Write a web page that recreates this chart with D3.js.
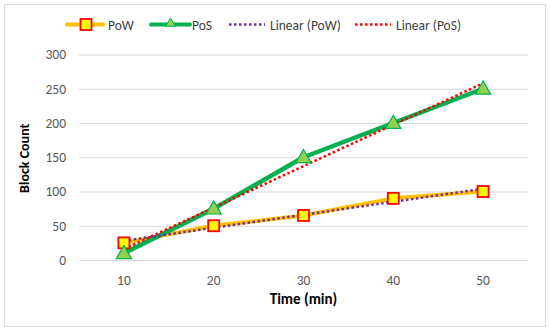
<!DOCTYPE html>
<html><head><meta charset="utf-8">
<script src="https://cdn.jsdelivr.net/npm/d3@7"></script>
<style>body{margin:0;background:#fff}svg{display:block}text{font-family:Carlito,Calibri,"Open Sans",sans-serif}</style>
</head><body>
<script>
const categories = [10, 20, 30, 40, 50];
const powValues = [25, 50, 65, 90, 100];
const posValues = [10, 75, 150, 200, 250];
const yTicks = [0, 50, 100, 150, 200, 250, 300];
const seriesNames = ["PoW", "PoS", "Linear (PoW)", "Linear (PoS)"];

const W = 550, H = 333;
const svg = d3.select("body").append("svg").attr("width", W).attr("height", H);
svg.append("rect").attr("x", 4.5).attr("y", 4.5).attr("width", 541).attr("height", 322)
  .attr("fill", "#fff").attr("stroke", "#d9d9d9").attr("stroke-width", 1);

const m = {left: 79, right: 528, top: 54.5, bottom: 260};
const x = d3.scaleBand().domain(categories).range([m.left, m.right]);
const y = d3.scaleLinear().domain([0, 300]).range([m.bottom, m.top]);
const cx = d => x(d) + x.bandwidth() / 2;
const FF = "Carlito,Calibri,'Open Sans',sans-serif";

// gridlines
svg.append("g").selectAll("line").data(yTicks).join("line")
  .attr("x1", m.left).attr("x2", m.right)
  .attr("y1", d => y(d) + 0.5).attr("y2", d => y(d) + 0.5)
  .attr("stroke", "#d9d9d9").attr("stroke-width", 1);

// y tick labels
const yAxis = d3.axisLeft(y).tickValues(yTicks).tickSize(0).tickPadding(13);
const gy = svg.append("g").attr("transform", `translate(${m.left},0)`).call(yAxis);
gy.select(".domain").remove();
gy.selectAll("text").attr("font-size", 13.5).attr("fill", "#595959").style("font-family", FF);

// x tick labels
const xAxis = d3.axisBottom(x).tickSize(0).tickPadding(15);
const gx = svg.append("g").attr("transform", `translate(0,${m.bottom})`).call(xAxis);
gx.select(".domain").remove();
gx.selectAll("text").attr("font-size", 13.5).attr("fill", "#595959").style("font-family", FF);

// axis titles
svg.append("text").attr("x", (m.left + m.right) / 2).attr("y", 304).attr("text-anchor", "middle")
  .attr("font-size", 15).attr("font-weight", "bold").attr("fill", "#000").text("Time (min)");
svg.append("text").attr("transform", `translate(29,${(m.top + m.bottom) / 2 + 1}) rotate(-90)`)
  .attr("text-anchor", "middle").attr("font-size", 14).attr("font-weight", "bold")
  .attr("fill", "#000").text("Block Count");

// linear regression helper (trendline derived from the series)
function trend(vals) {
  const n = vals.length, xs = vals.map((_, i) => i + 1);
  const mx = d3.mean(xs), my = d3.mean(vals);
  const b = d3.sum(xs, (xi, i) => (xi - mx) * (vals[i] - my)) / d3.sum(xs, xi => (xi - mx) ** 2);
  const a = my - b * mx;
  return [[categories[0], a + b * 1], [categories[n - 1], a + b * n]];
}

const line = d3.line().x(d => cx(d[0])).y(d => y(d[1]));
const powPts = categories.map((c, i) => [c, powValues[i]]);
const posPts = categories.map((c, i) => [c, posValues[i]]);

svg.append("path").datum(powPts).attr("d", line).attr("fill", "none")
  .attr("stroke", "#FFC000").attr("stroke-width", 4).attr("stroke-linejoin", "round").attr("stroke-linecap", "round");
svg.append("path").datum(posPts).attr("d", line).attr("fill", "none")
  .attr("stroke", "#00B050").attr("stroke-width", 4.5).attr("stroke-linejoin", "round").attr("stroke-linecap", "round");

svg.append("path").datum(trend(powValues)).attr("d", line).attr("fill", "none")
  .attr("stroke", "#7030A0").attr("stroke-width", 2.5).attr("stroke-dasharray", "2.5,2.5");
svg.append("path").datum(trend(posValues)).attr("d", line).attr("fill", "none")
  .attr("stroke", "#FF0000").attr("stroke-width", 2.5).attr("stroke-dasharray", "2.5,2.5");

const sq = 11, tri = d3.symbol().type(d3.symbolTriangle).size(100);
function square(g, px, py) {
  g.append("rect").attr("x", px - sq / 2).attr("y", py - sq / 2).attr("width", sq).attr("height", sq)
    .attr("fill", "#FFFF00").attr("stroke", "#FF0000").attr("stroke-width", 1.8);
}
function triangle(g, px, py) {
  g.append("path").attr("d", tri).attr("transform", `translate(${px},${py + 1})`)
    .attr("fill", "#92D050").attr("stroke", "#00B050").attr("stroke-width", 1.2);
}
const mk = svg.append("g");
powPts.forEach(d => square(mk, cx(d[0]), y(d[1])));
posPts.forEach(d => triangle(mk, cx(d[0]), y(d[1])));

// legend
const ly = 24.5, lg = svg.append("g");
lg.append("line").attr("x1", 67).attr("x2", 103).attr("y1", ly).attr("y2", ly).attr("stroke", "#FFC000").attr("stroke-width", 4).attr("stroke-linecap", "round");
square(lg, 86, ly);
lg.append("line").attr("x1", 151).attr("x2", 190).attr("y1", ly).attr("y2", ly).attr("stroke", "#00B050").attr("stroke-width", 4).attr("stroke-linecap", "round");
lg.append("path").attr("d", d3.symbol().type(d3.symbolTriangle).size(40)).attr("transform", `translate(170.5,${ly - 1})`)
  .attr("fill", "#92D050").attr("stroke", "#00B050").attr("stroke-width", 1);
lg.append("line").attr("x1", 229).attr("x2", 265).attr("y1", ly).attr("y2", ly).attr("stroke", "#7030A0").attr("stroke-width", 2.5).attr("stroke-dasharray", "2.5,2.5");
lg.append("line").attr("x1", 355).attr("x2", 391).attr("y1", ly).attr("y2", ly).attr("stroke", "#FF0000").attr("stroke-width", 2.5).attr("stroke-dasharray", "2.5,2.5");
const lx = [108, 192, 270, 396];
seriesNames.forEach((s, i) => lg.append("text").attr("x", lx[i]).attr("y", ly + 5)
  .attr("font-size", 13.5).attr("fill", "#404040").text(s));
</script>
</body></html>
